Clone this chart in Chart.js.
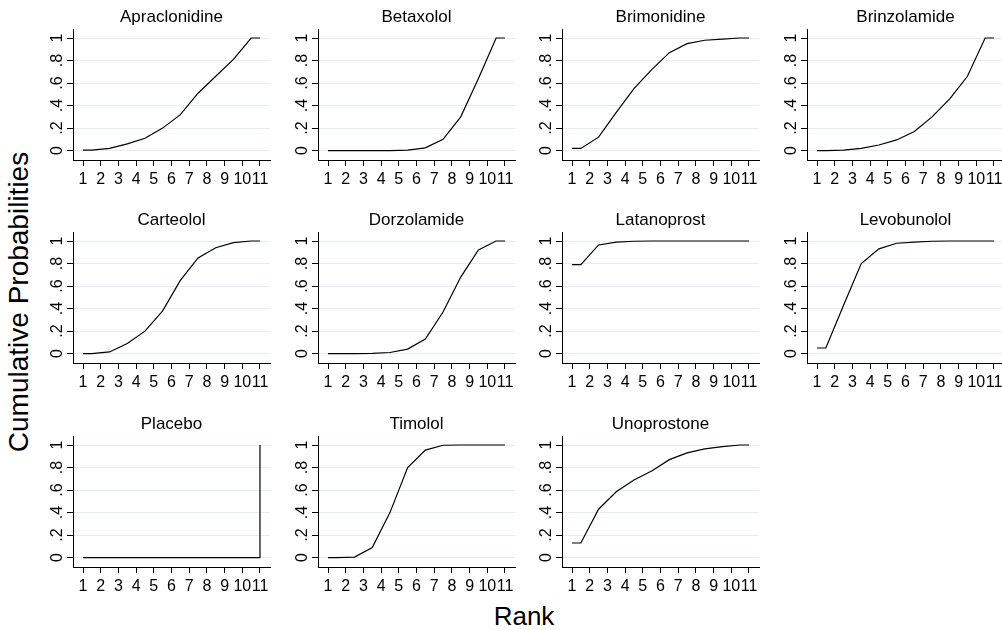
<!doctype html>
<html>
<head>
<meta charset="utf-8">
<title>Cumulative ranking probabilities</title>
<script src="https://cdn.jsdelivr.net/npm/chart.js@4.4.1/dist/chart.umd.min.js"></script>
<style>
  body{margin:0;background:#fff;font-family:"Liberation Sans",Arial,sans-serif;}
  #wrap{position:relative;width:1002px;height:630px;overflow:hidden;background:#fff;}
  #wrap canvas{position:absolute;}
  .ytitle{position:absolute;left:19px;top:302px;transform:translate(-50%,-50%) rotate(-90deg);
          font-size:28px;white-space:nowrap;color:#000;}
  .xtitle{position:absolute;left:524px;top:616px;transform:translate(-50%,-50%);
          font-size:26px;color:#000;}
</style>
</head>
<body>
<div id="wrap">
  <div class="ytitle">Cumulative Probabilities</div>
  <div class="xtitle">Rank</div>
</div>

<script>
// treatments, in panel order
const drugs = ['Apraclonidine','Betaxolol','Brimonidine','Brinzolamide',
               'Carteolol','Dorzolamide','Latanoprost','Levobunolol',
               'Placebo','Timolol','Unoprostone'];

// cumulative probability of being ranked 1..k, for k = 1..11
const apraclonidine = [0.005,0.02,0.06,0.11,0.20,0.32,0.51,0.66,0.81,1,1];
const betaxolol     = [0,0,0,0,0.005,0.025,0.10,0.30,0.64,1,1];
const brimonidine   = [0.02,0.12,0.34,0.55,0.72,0.87,0.95,0.98,0.99,1,1];
const brinzolamide  = [0,0.005,0.02,0.05,0.095,0.17,0.30,0.46,0.66,1,1];
const carteolol     = [0,0.015,0.09,0.20,0.38,0.65,0.85,0.94,0.985,1,1];
const dorzolamide   = [0,0,0.003,0.01,0.04,0.13,0.37,0.68,0.92,1,1];
const latanoprost   = [0.79,0.965,0.99,0.998,1,1,1,1,1,1,1];
const levobunolol   = [0.05,0.43,0.80,0.93,0.98,0.99,0.998,1,1,1,1];
const placebo       = [0,0,0,0,0,0,0,0,0,0,1];
const timolol       = [0,0.005,0.09,0.40,0.80,0.955,0.998,1,1,1,1];
const unoprostone   = [0.13,0.43,0.585,0.69,0.77,0.87,0.93,0.965,0.985,1,1];
const series = [apraclonidine,betaxolol,brimonidine,brinzolamide,carteolol,dorzolamide,
                latanoprost,levobunolol,placebo,timolol,unoprostone];

// x ticks and where each vertex of a curve sits, with the rank it shows
const ranks   = [1,2,3,4,5,6,7,8,9,10,11];
const rankPos = [1,1.5,2.5,3.5,4.5,5.5,6.5,7.5,8.5,9.5,10.5,11,11];
const rankOf  = [1,1,2,3,4,5,6,7,8,9,10,10,11];

const yTicks      = [0,0.2,0.4,0.6,0.8,1];
const yTickLabels = ['0','.2','.4','.6','.8','1'];

const FONT = '"Liberation Sans", Arial, sans-serif';

// panel title centred over the plot area
const panelTitle = {
  id: 'panelTitle',
  afterDraw(chart, args, opts) {
    const {ctx, chartArea:{left,right,top}} = chart;
    ctx.save();
    ctx.font = '17px ' + FONT;
    ctx.fillStyle = '#000';
    ctx.textAlign = 'center';
    ctx.textBaseline = 'alphabetic';
    ctx.fillText(opts.text, (left + right) / 2, top - 7);
    ctx.restore();
  }
};

const wrap = document.getElementById('wrap');
const colLeft = [33, 278, 522, 767];
const rowTop  = [0, 203, 407];

drugs.forEach((name, i) => {
  const cv = document.createElement('canvas');
  cv.width = 244; cv.height = 203;
  cv.style.left = colLeft[i % 4] + 'px';
  cv.style.top  = rowTop[Math.floor(i / 4)] + 'px';
  wrap.appendChild(cv);

  const vals = series[i];
  const pts = rankPos.map((x, j) => ({x, y: vals[rankOf[j] - 1]}));

  new Chart(cv, {
    type: 'line',
    data: { datasets: [{ data: pts, borderColor:'#000', borderWidth:1.2,
                         pointRadius:0, tension:0, fill:false }] },
    options: {
      responsive:false, animation:false, events:[],
      layout:{ padding:{ top:29, right:7, bottom:0, left:0 } },
      plugins:{ legend:{display:false}, tooltip:{enabled:false}, panelTitle:{ text:name } },
      scales:{
        x:{
          type:'linear', min:0.434, max:11.566,
          afterBuildTicks: s => { s.ticks = ranks.map(v => ({value:v})); },
          afterFit: s => { s.height = 43; },
          grid:{ drawOnChartArea:false, tickLength:6, tickColor:'#000', tickWidth:1 },
          border:{ color:'#000', width:1 },
          ticks:{ font:{family:FONT, size:16}, color:'#000', padding:4,
                  autoSkip:false, minRotation:0, maxRotation:0,
                  callback: v => String(v) }
        },
        y:{
          type:'linear', min:-0.083, max:1.08,
          afterBuildTicks: s => { s.ticks = yTicks.map(v => ({value:v})); },
          afterFit: s => { s.width = 40; },
          grid:{ color:'#e4edf0', lineWidth:1, tickLength:6, tickColor:'#000', tickWidth:1 },
          border:{ color:'#000', width:1 },
          ticks:{ font:{family:FONT, size:16}, color:'#000', padding:3,
                  minRotation:90, maxRotation:90, crossAlign:'center',
                  callback: (v, idx) => yTickLabels[idx] }
        }
      }
    },
    plugins:[panelTitle]
  });
});
</script>
</body>
</html>
